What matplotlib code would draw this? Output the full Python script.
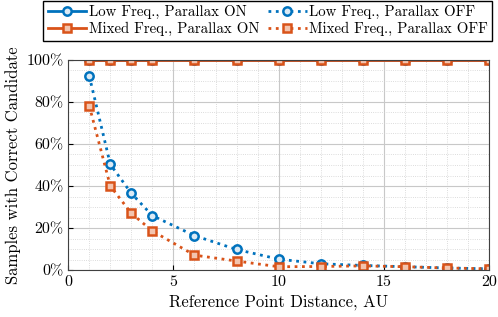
import matplotlib
matplotlib.use("Agg")
import matplotlib.pyplot as plt
from matplotlib.ticker import FixedLocator, FuncFormatter

plt.rcParams["font.family"] = "serif"
plt.rcParams["font.serif"] = ["cmr10", "DejaVu Serif"]
plt.rcParams["mathtext.fontset"] = "cm"
plt.rcParams["axes.formatter.use_mathtext"] = True

distance = [1, 2, 3, 4, 6, 8, 10, 12, 14, 16, 18, 20]
low_on = [100, 100, 100, 100, 100, 100, 100, 100, 100, 100, 100, 100]
mixed_on = [100, 100, 100, 100, 100, 100, 100, 100, 100, 100, 100, 100]
low_off = [92.4, 50.3, 36.5, 25.9, 16.4, 9.8, 5.2, 3.0, 2.2, 1.6, 1.0, 0.6]
mixed_off = [78.2, 40.0, 27.0, 18.6, 7.1, 4.3, 1.6, 1.7, 2.0, 1.6, 1.0, 0.6]

x_ticks = [0, 5, 10, 15, 20]
y_ticks = [0, 20, 40, 60, 80, 100]

BLUE = "#0072BD"
ORANGE = "#D95319"

fig = plt.figure(figsize=(4.98, 3.17), dpi=100)
ax = fig.add_axes([0.137, 0.148, 0.845, 0.663])

kw = dict(lw=2, ms=6, mew=1.8)
h_lon, = ax.plot(distance, low_on, "-o", color=BLUE, mfc="#dbeaf5", label="Low Freq., Parallax ON", **kw)
h_loff, = ax.plot(distance, low_off, ":o", color=BLUE, mfc="#dbeaf5", label="Low Freq., Parallax OFF", **kw)
h_mon, = ax.plot(distance, mixed_on, "-s", color=ORANGE, mfc="#f3c4ae", label="Mixed Freq., Parallax ON", **kw)
h_moff, = ax.plot(distance, mixed_off, ":s", color=ORANGE, mfc="#f3c4ae", label="Mixed Freq., Parallax OFF", **kw)

ax.set_xlim(0, 20)
ax.set_ylim(0, 100)
ax.xaxis.set_major_locator(FixedLocator(x_ticks))
ax.xaxis.set_minor_locator(FixedLocator([v for v in range(0, 21) if v % 5]))
ax.yaxis.set_major_locator(FixedLocator(y_ticks))
ax.yaxis.set_minor_locator(FixedLocator([v for v in range(0, 101, 5) if v % 20]))
ax.xaxis.set_major_formatter(FuncFormatter(lambda v, p: f"{v:.0f}"))
ax.yaxis.set_major_formatter(FuncFormatter(lambda v, p: f"{v:.0f}%"))
ax.grid(True, which="major", color="#c8c8c8", lw=0.8)
ax.grid(True, which="minor", color="#d0d0d0", lw=0.6, ls=":")
ax.set_axisbelow(True)
ax.tick_params(which="both", direction="in", labelsize=11.5)
ax.tick_params(which="minor", length=0)
for s in ax.spines.values():
    s.set_color("#404040")
    s.set_linewidth(0.8)

ax.set_xlabel("Reference Point Distance, AU", fontsize=12)
ax.set_ylabel("Samples with Correct Candidate", fontsize=12)

fig.legend(handles=[h_lon, h_mon, h_loff, h_moff], ncol=2,
           loc="upper right", bbox_to_anchor=(0.99, 1.0),
           fontsize=10.7, frameon=True, fancybox=False, edgecolor="black",
           framealpha=1, handlelength=2.6, handletextpad=0.15,
           columnspacing=0.6, borderpad=0.3, labelspacing=0.2,
           borderaxespad=0.05)

fig.savefig("out.png", dpi=100)
